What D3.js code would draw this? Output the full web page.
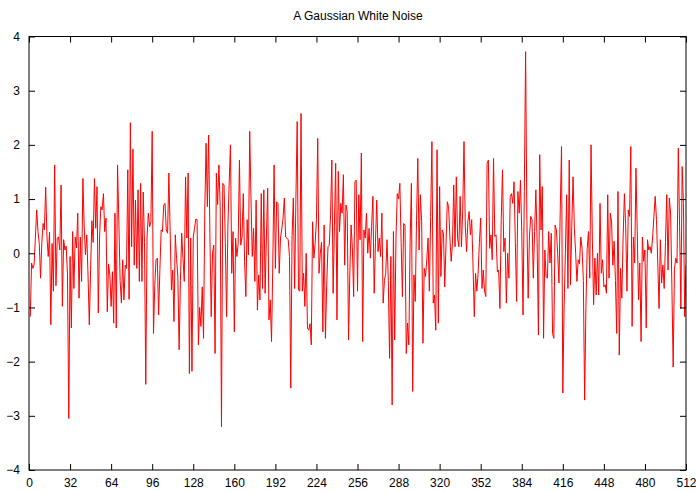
<!DOCTYPE html>
<html>
<head>
<meta charset="utf-8">
<script src="https://cdn.jsdelivr.net/npm/d3@7/dist/d3.min.js"></script>
<style>
  html, body { margin: 0; padding: 0; background: #fff; }
  svg { display: block; }
  text { font-family: "Liberation Sans", Arial, sans-serif; }
</style>
</head>
<body>
<script>
const title = "A Gaussian White Noise";
const xTicks = [0, 32, 64, 96, 128, 160, 192, 224, 256, 288, 320, 352, 384, 416, 448, 480, 512];
const yTicks = [-4, -3, -2, -1, 0, 1, 2, 3, 4];
const noise = [
 -1.17,-0.18,-0.28,-0.2,0.3,0.8,0.4,0.18,-0.46,0.2,
 0.55,0.43,1.22,0.3,-0.06,0.39,-1.32,0.18,-0.7,1.63,
 -0.6,0.28,0.3,0.06,1.26,-0.98,0.25,0.06,0.13,-0.4,
 -3.05,-0.06,-1.38,0.4,-0.65,0.3,0.1,0.74,-0.83,0.3,
 -0.52,1.38,
 0.5,-0.03,0.34,-0.4,-1.32,-0.3,0.6,0.2,
 1.38,0.46,1.23,-1.1,0.3,0.86,0.8,1.1,0.4,0.65,
 -1.08,-0.2,-0.4,-0.98,-0.34,-1.29,0.74,-1.38,1.63,0.6,
 -0.5,-0.92,-0.12,-0.86,-0.22,-0.28,1.54,-0.85,2.41,0.12,
 1.92,-0.22,0.98,-0.28,1.17,
 -0.52,1.29,-0.52,1.13,0.2,
 -2.42,0.3,0.74,0.49,0.58,2.25,-1.48,-0.6,-0.12,-0.09,
 -1.14,-0.3,0.43,0.4,0.89,0.92,0.43,0.37,1.48,0.4,
 -0.68,-0.31,-1.26,0.34,-0.1,-0.43,-1.78,-0.5,0.37,-0.1,
 -0.52,1.41,0.28,1.48,-2.22,0.28,-2.18,0.3,
 0.46,0.63,
 0.62,-1.69,-1.0,-1.35,-0.62,-1.57,0.8,2.03,0.86,2.18,
 0.3,-1.17,0.0,0.15,-1.85,1.48,0.9,1.63,0.86,-3.2,
 1.29,1.26,0.2,-1.17,0.5,1.3,2.0,-0.37,0.4,-1.45,
 0.28,-0.06,0.18,1.72,0.15,0.3,1.1,-0.15,-0.8,0.62,
 -0.03,2.25,
 1.0,-0.06,0.46,-0.52,0.98,-1.05,-0.4,-0.86,
 1.1,-0.65,1.17,-0.74,0.3,1.2,-1.23,-0.86,-1.63,-0.2,
 1.63,-0.28,0.95,0.92,-0.37,0.28,0.45,0.65,1.02,0.3,
 0.28,0.25,-0.06,-2.49,0.3,1.02,-0.65,1.0,2.43,-0.68,
 -0.7,2.58,-0.7,-0.37,-0.98,0.0,-1.38,
 -1.42,-1.3,-1.69,
 0.58,-0.09,0.18,0.62,2.12,-0.37,0.0,0.2,-1.45,0.52,
 -1.57,-0.6,0.12,0.15,0.71,1.72,-0.74,0.5,1.66,-1.23,
 1.51,0.4,0.92,0.74,1.45,-0.22,0.89,0.77,-1.6,-0.4,
 0.52,0.1,-0.8,1.32,1.35,-0.7,1.08,0.25,1.85,-1.63,
 0.43,
 0.28,0.74,0.0,0.46,-0.09,0.5,1.05,-0.74,0.2,
 0.98,0.03,0.28,-0.06,0.74,-0.92,-0.5,-0.37,0.25,-0.5,
 -1.94,-0.06,-2.8,0.4,-1.6,0.3,1.1,1.0,1.29,0.2,
 -0.8,0.55,0.52,-1.85,-1.29,-1.69,0.2,1.29,-2.55,-0.4,
 -0.89,0.6,1.75,0.06,
 1.08,0.58,-1.66,-0.28,-0.43,-0.12,
 0.28,-0.7,0.68,2.06,-0.92,-0.77,-1.42,1.91,-1.29,1.23,
 -0.43,0.43,0.37,-0.62,0.18,0.95,0.86,0.3,-0.15,0.18,
 1.26,0.12,1.41,0.28,0.12,1.05,0.12,0.8,2.06,0.5,
 0.03,0.58,0.77,0.34,0.62,-0.2,-1.17,-0.37,
 -0.7,-0.37,
 0.2,0.65,-0.65,-0.31,-0.7,-0.8,1.66,1.72,0.09,0.34,
 -0.12,1.75,0.31,0.34,-0.34,-0.31,-1.02,0.62,1.54,0.03,
 0.28,-0.92,0.0,-0.46,1.05,1.1,0.92,1.32,0.2,-0.89,
 1.14,0.74,1.35,0.4,-1.14,1.14,3.72,0.62,-0.83,0.3,
 0.68,0.62,
 -0.46,0.4,1.17,0.2,-1.51,1.82,0.43,1.23,
 -1.57,0.06,-0.43,-0.46,0.4,-0.18,0.37,-1.48,-1.57,0.52,
 0.43,0.0,-0.55,0.8,1.97,-2.58,-1.0,0.0,1.08,-0.65,
 1.72,-0.58,0.5,1.41,0.46,0.0,-0.52,-0.12,-0.2,0.3,
 0.09,-0.5,
 -2.71,-1.0,0.09,0.4,-0.46,2.0,0.3,-0.95,
 -0.09,-0.77,0.0,-0.77,0.92,-0.37,-0.12,-0.62,-0.58,-0.74,
 1.08,-0.46,0.74,0.58,-0.22,0.22,-0.5,-1.48,1.14,-1.88,
 -0.28,-0.83,0.3,1.1,0.5,-0.7,0.8,0.68,1.97,-1.35,
 0.3,-0.18,1.57,0.4,-0.86,-0.18,-1.63,0.3,-0.15,0.06,
 -1.38,0.25,0.06,0.12,0.0,0.3,0.68,1.05,0.62,-0.18,
 -1.02,0.25,-0.55,-0.22,-0.65,0.2,1.08,-0.31,1.02,0.74,
 -0.6,-2.1,-0.3,-0.09,-0.18,1.94,0.5,-1.02,1.6,0.92,
 -1.17,-0.22
];

const W = 696, H = 492;
const margin = { left: 29, right: 10, top: 36.5, bottom: 22 };
const iw = W - margin.left - margin.right;
const ih = H - margin.top - margin.bottom;

const svg = d3.select("body").append("svg").attr("width", W).attr("height", H);

const x = d3.scaleLinear().domain([0, 512]).range([margin.left, margin.left + iw]);
const y = d3.scaleLinear().domain([-4, 4]).range([margin.top + ih, margin.top]);

// Title
svg.append("text")
  .attr("x", 358).attr("y", 20)
  .attr("text-anchor", "middle")
  .attr("font-size", 12)
  .attr("fill", "#000")
  .text(title);

// Clip
svg.append("clipPath").attr("id", "clip")
  .append("rect").attr("x", margin.left).attr("y", margin.top).attr("width", iw).attr("height", ih);

// Data line
const line = d3.line().x((d, i) => x(i + 1)).y(d => y(d));
svg.append("path")
  .datum(noise)
  .attr("clip-path", "url(#clip)")
  .attr("fill", "none")
  .attr("stroke", "#ff0000")
  .attr("stroke-width", 1)
  .attr("d", line);

function styleAxis(g) {
  g.select(".domain").remove();
  g.selectAll(".tick line").attr("stroke", "#000");
  g.selectAll(".tick text").attr("font-size", 12).attr("fill", "#000")
    .attr("font-family", "Liberation Sans, Arial, sans-serif");
}

// Bottom axis (ticks inward)
svg.append("g")
  .attr("transform", `translate(0,${margin.top + ih})`)
  .call(d3.axisBottom(x).tickValues(xTicks).tickSizeInner(-6).tickSizeOuter(0).tickPadding(8).tickFormat(d3.format("d")))
  .call(styleAxis);
// Top mirror ticks
svg.append("g")
  .attr("transform", `translate(0,${margin.top})`)
  .call(d3.axisTop(x).tickValues(xTicks).tickSizeInner(-6).tickSizeOuter(0).tickFormat(""))
  .call(styleAxis);
// Left axis
svg.append("g")
  .attr("transform", `translate(${margin.left},0)`)
  .call(d3.axisLeft(y).tickValues(yTicks).tickSizeInner(-6).tickSizeOuter(0).tickPadding(9).tickFormat(d3.format("d")))
  .call(styleAxis);
// Right mirror ticks
svg.append("g")
  .attr("transform", `translate(${margin.left + iw},0)`)
  .call(d3.axisRight(y).tickValues(yTicks).tickSizeInner(-6).tickSizeOuter(0).tickFormat(""))
  .call(styleAxis);

// Frame
svg.append("rect")
  .attr("x", margin.left).attr("y", margin.top)
  .attr("width", iw).attr("height", ih)
  .attr("fill", "none").attr("stroke", "#000").attr("stroke-width", 1);
</script>
</body>
</html>
